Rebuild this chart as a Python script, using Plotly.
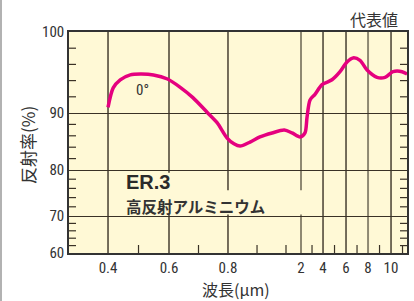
import numpy as np
import plotly.graph_objects as go

# ---- data ----
WAVELENGTH = [0.40, 0.417, 0.44, 0.473, 0.506, 0.549, 0.595, 0.637, 0.681, 0.729,
              0.763, 0.797, 0.841, 0.883, 0.952, 1.05, 1.26, 1.47, 1.70, 1.97,
              2.36, 2.55, 2.82, 3.27, 3.91, 4.78, 5.48, 6.09, 6.64, 7.27,
              7.91, 8.78, 9.48, 10.17, 10.96, 11.4]
REFLECTANCE = [90.7, 93.1, 94.1, 94.7, 94.8, 94.7, 94.2, 93.2, 91.9, 90.1,
               88.3, 85.6, 84.6, 84.2, 84.9, 85.8, 86.5, 87.0, 86.5, 85.8,
               86.5, 89.3, 91.6, 92.3, 93.5, 94.1, 95.1, 96.3, 96.8, 96.5,
               95.3, 94.4, 94.4, 95.1, 95.1, 94.8]

X_TICK_VALUES = [0.4, 0.6, 0.8, 2, 4, 6, 8, 10]
X_TICK_LABELS = ["0.4", "0.6", "0.8", "2", "4", "6", "8", "10"]
X_MINOR_VALUES = [0.5, 0.7, 1.0, 1.5, 3, 5, 7, 9, 11]
Y_TICK_VALUES = [60, 70, 80, 90, 100]
Y_TICK_LABELS = ["60", "70", "80", "90", "100"]
Y_MINOR_VALUES = [v for v in range(62, 100, 2) if v % 10 != 0]

# ---- the chart's own nonlinear scales (piecewise) ----
X_SCALE_WL = [0.2, 0.4, 0.6, 0.8, 1.0, 1.5, 2, 4, 6, 8, 10, 12]
X_SCALE_POS = [-1.0, 0.0, 1.008, 1.983, 2.463, 2.942, 3.19, 3.554, 3.934, 4.298, 4.678, 5.058]
Y_SCALE_VAL = [60, 70, 80, 90, 100]
Y_SCALE_POS = [0, 37, 83, 140, 221]

def sx(v):
    return np.interp(np.asarray(v, dtype=float), X_SCALE_WL, X_SCALE_POS)

def sy(v):
    return np.interp(np.asarray(v, dtype=float), Y_SCALE_VAL, Y_SCALE_POS)

X_RANGE = [-0.645, 4.942]
Y_RANGE = [0, 221]
PLOT_W, PLOT_H = 338, 221
X_PER_PX = (X_RANGE[1] - X_RANGE[0]) / PLOT_W
Y_PER_PX = (Y_RANGE[1] - Y_RANGE[0]) / PLOT_H

FONT = "Liberation Sans Narrow, Roboto Condensed, Arial Narrow, Roboto, sans-serif"
JP = "Noto Sans CJK JP, sans-serif"
DARK = "#3a3226"
GRAY = "#8f8972"
BG = "#fff9d6"
PINK = "#e5007f"
TXT = "#333333"

fig = go.Figure()
fig.add_trace(go.Scatter(
    x=sx(WAVELENGTH), y=sy(REFLECTANCE), mode="lines",
    line=dict(color=PINK, width=3.5, shape="spline", smoothing=0.8),
    hoverinfo="skip", showlegend=False))

shapes = []
# vertical grid lines
grid_colors = {0.4: DARK, 0.6: DARK, 0.8: DARK, 2: GRAY, 4: DARK, 6: DARK, 8: GRAY, 10: DARK}
for v in X_TICK_VALUES:
    c = grid_colors[v]
    shapes.append(dict(type="line", xref="x", yref="paper", x0=float(sx(v)), x1=float(sx(v)),
                       y0=0, y1=1, line=dict(color=c, width=2 if c == GRAY else 1.4), layer="below"))
# label background boxes (cover vertical grid lines)
shapes.append(dict(type="rect", xref="x", yref="y", x0=float(sx(0.44)), x1=float(sx(0.63)),
                   y0=float(sy(70.3)), y1=float(sy(79.4)), fillcolor=BG, line=dict(width=0), layer="below"))
shapes.append(dict(type="rect", xref="x", yref="y", x0=float(sx(0.44)), x1=float(sx(2.2)),
                   y0=float(sy(70.3)), y1=float(sy(75.6)), fillcolor=BG, line=dict(width=0), layer="below"))
# minor ticks (inside) on the bottom axis
for v in X_MINOR_VALUES:
    shapes.append(dict(type="line", xref="x", yref="y", x0=float(sx(v)), x1=float(sx(v)),
                       y0=Y_RANGE[0], y1=Y_RANGE[0] + 8 * Y_PER_PX,
                       line=dict(color=DARK, width=1.2), layer="above"))
# minor ticks (inside) on the left and right axes
for v in Y_MINOR_VALUES:
    yy = float(sy(v))
    shapes.append(dict(type="line", xref="x", yref="y", x0=X_RANGE[0], x1=X_RANGE[0] + 7 * X_PER_PX,
                       y0=yy, y1=yy, line=dict(color=DARK, width=1.2), layer="above"))
    shapes.append(dict(type="line", xref="x", yref="y", x0=X_RANGE[1] - 7 * X_PER_PX, x1=X_RANGE[1],
                       y0=yy, y1=yy, line=dict(color=DARK, width=1.2), layer="above"))
# left border of the card
shapes.append(dict(type="line", xref="paper", yref="paper", x0=-68/338, x1=-68/338,
                   y0=-48/221, y1=1 + 32/221, line=dict(color="#999", width=1.5)))

annotations = [
    dict(text="代表値", xref="paper", yref="paper", x=331 / 338, y=1 + 13.5 / 221, xanchor="right",
         yanchor="middle", showarrow=False, font=dict(family=JP, size=16, color=TXT)),
    dict(text="0°", xref="x", yref="y", x=float(sx(0.512)), y=float(sy(92.8)), showarrow=False,
         font=dict(family=FONT, size=15, color=TXT)),
    dict(text="<b>ER.3</b>", xref="x", yref="y", x=float(sx(0.452)), y=float(sy(77.3)), xanchor="left",
         yanchor="middle", showarrow=False,
         font=dict(family="Liberation Sans, Arial, sans-serif", size=20, color="#2a2a2a")),
    dict(text="<b>高反射アルミニウム</b>", xref="x", yref="y", x=float(sx(0.452)), y=float(sy(72.2)),
         xanchor="left", yanchor="middle", showarrow=False, font=dict(family=JP, size=15.5, color=TXT)),
    dict(text="波長(μm)", xref="paper", yref="paper", x=(236 - 69) / 338, y=-36 / 221,
         xanchor="center", yanchor="middle", showarrow=False, font=dict(family=JP, size=16, color=TXT)),
    dict(text="反射率(%)", xref="paper", yref="paper", x=-42 / 338, y=(253 - 145) / 221, textangle=-90,
         xanchor="center", yanchor="middle", showarrow=False, font=dict(family=JP, size=17, color=TXT)),
]

fig.update_layout(
    width=414, height=301,
    margin=dict(l=69, r=7, t=32, b=48, autoexpand=False),
    paper_bgcolor="white", plot_bgcolor=BG,
    shapes=shapes, annotations=annotations,
    showlegend=False,
    xaxis=dict(range=X_RANGE, tickmode="array", tickvals=list(sx(X_TICK_VALUES)), ticktext=X_TICK_LABELS,
               ticks="", showgrid=False, zeroline=False, showline=True, linecolor="#333", linewidth=1.5,
               mirror=True, automargin=False, tickfont=dict(family=FONT, size=15, color=TXT),
               fixedrange=True),
    yaxis=dict(range=Y_RANGE, tickmode="array", tickvals=list(sy(Y_TICK_VALUES)), ticktext=Y_TICK_LABELS,
               ticks="", showgrid=True, gridcolor=DARK, gridwidth=1.4, zeroline=False,
               showline=True, linecolor="#333", linewidth=1.5, mirror=True, automargin=False,
               tickfont=dict(family=FONT, size=15, color=TXT),
               fixedrange=True),
)

fig.write_html("out.html", config={"displayModeBar": False},
               post_script="document.body.style.margin='0';document.body.style.overflow='hidden';")
